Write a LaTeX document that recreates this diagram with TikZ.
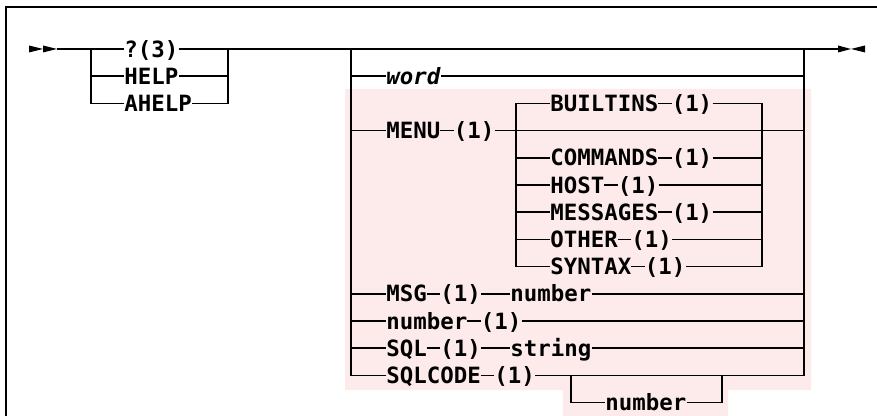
\documentclass[tikz,border=0pt]{standalone}
\usepackage{fontspec}
\setmonofont{DejaVu Sans Mono}
\usepackage{tikz}
\definecolor{pinkbg}{RGB}{253,235,235}
\newcommand{\kd}{\rule[3.7pt]{6.74pt}{0.75pt}}

\begin{document}
\begin{tikzpicture}[x=0.5pt,y=-0.5pt,
  rail/.style={line width=0.75pt},
  kw/.style={anchor=west,inner sep=0pt,text height=8.16pt,text depth=0pt,
    font=\fontsize{11.2}{13}\selectfont\ttfamily\bfseries},
  var/.style={kw,font=\fontsize{11.2}{13}\selectfont\ttfamily\bfseries\itshape}]
\useasboundingbox (0,0) rectangle (877,416);
\draw[line width=0.75pt] (6,416) -- (6,7) -- (877,7);
\fill[pinkbg] (345,89) -- (811,89) -- (811,390) -- (728,390) -- (728,416)
  -- (563,416) -- (563,390) -- (345,390) -- cycle;

\coordinate (start) at (57,49);
\coordinate (la) at (91,49);
\coordinate (ra) at (228,49);
\coordinate (ga) at (351,49);
\coordinate (gb) at (804,49);
\coordinate (stop) at (838,49);
\coordinate (sa) at (516,103.4);
\coordinate (sb) at (762,103.4);
\coordinate (ca) at (571,375.4);
\coordinate (cb) at (722,375.4);

\node[kw] (q3) at (124,49) {?(3)};
\node[kw] (help) at (124,76.2) {HELP};
\node[kw] (ahelp) at (124,103.4) {AHELP};
\node[var] (word) at (386,76.2) {word};
\node[kw] (menu) at (386,130.6) {MENU\kd(1)};
\node[kw] (bltn) at (550,103.4) {BUILTINS\kd(1)};
\node[kw] (cmds) at (550,157.8) {COMMANDS\kd(1)};
\node[kw] (host) at (550,185) {HOST\kd(1)};
\node[kw] (msgs) at (550,212.2) {MESSAGES\kd(1)};
\node[kw] (other) at (550,239.4) {OTHER\kd(1)};
\node[kw] (syntax) at (550,266.6) {SYNTAX\kd(1)};
\node[kw] (msg) at (386,293.8) {MSG\kd(1)};
\node[kw] (msgnum) at (510,293.8) {number};
\node[kw] (num) at (386,321) {number\kd(1)};
\node[kw] (sql) at (386,348.2) {SQL\kd(1)};
\node[kw] (sqlstr) at (510,348.2) {string};
\node[kw] (sqlcode) at (386,375.4) {SQLCODE\kd(1)};
\node[kw] (cnum) at (605,402.6) {number};

% start / stop marks
\fill (29,45.5) -- (43,49) -- (29,52.5) -- cycle;
\fill (43,45.5) -- (57,49) -- (43,52.5) -- cycle;
\fill (838,45.5) -- (851,49) -- (838,52.5) -- cycle;
\fill (865,45.5) -- (851,49) -- (865,52.5) -- cycle;

% first choice
\draw[rail] (start) -- (q3.west);
\draw[rail] (q3.east) -- (stop);
\draw[rail] (la) |- (ahelp.west);
\draw[rail] (ahelp.east) -| (ra);
\draw[rail] (help.west -| la) -- (help.west);
\draw[rail] (help.east) -- (help.east -| ra);

% second choice
\draw[rail] (ga) |- (sqlcode.west);
\draw[rail] (sqlcode.east) -| (gb);
\foreach \n in {word,menu,msg,num,sql}
  \draw[rail] (\n.west -| ga) -- (\n.west);
\foreach \n in {word,menu,msgnum,num,sqlstr}
  \draw[rail] (\n.east) -- (\n.east -| gb);
\draw[rail] (msg.east) -- (msgnum.west);
\draw[rail] (sql.east) -- (sqlstr.west);

% menu topics
\draw[rail] (syntax.west) -| (sa) -- (bltn.west);
\draw[rail] (bltn.east) -| (sb) |- (syntax.east);
\foreach \n in {cmds,host,msgs,other} {
  \draw[rail] (\n.west -| sa) -- (\n.west);
  \draw[rail] (\n.east) -- (\n.east -| sb);
}

% sqlcode number
\draw[rail] (ca) |- (cnum.west);
\draw[rail] (cnum.east) -| (cb);
\end{tikzpicture}
\end{document}
